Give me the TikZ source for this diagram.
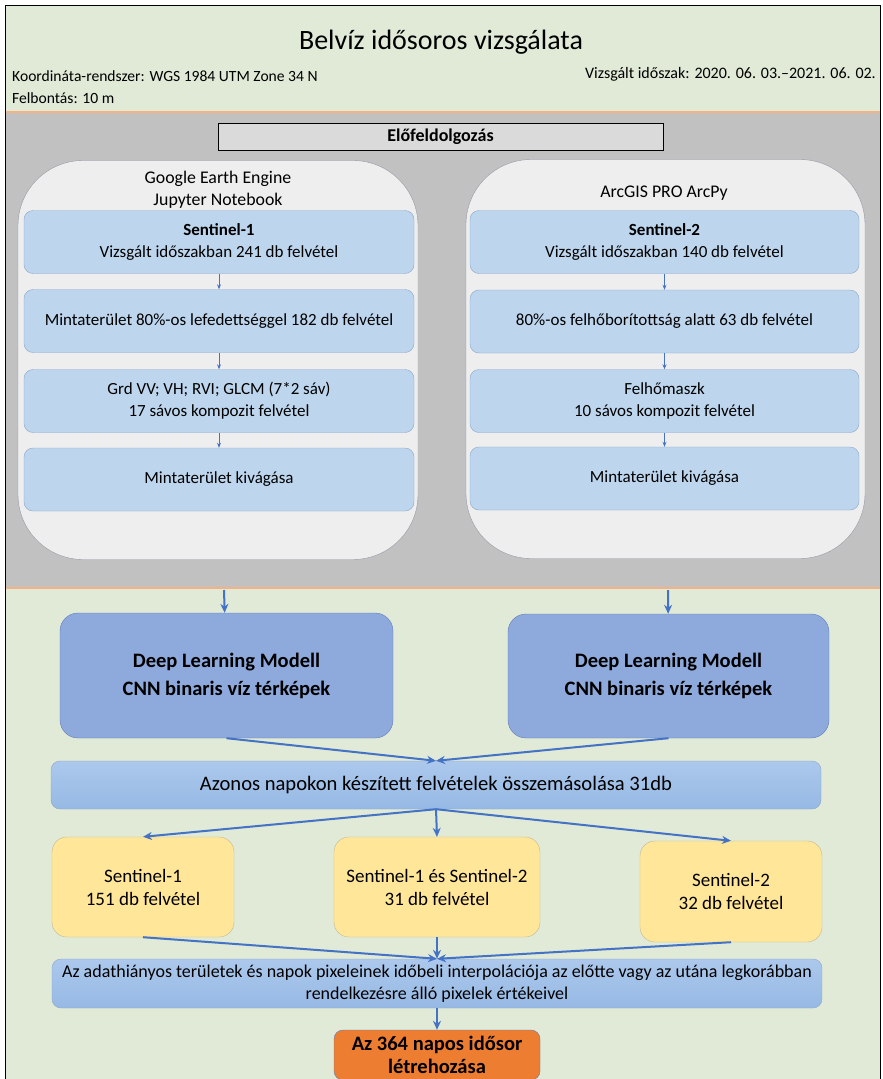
\documentclass[tikz,border=0pt]{standalone}
\usepackage{fontspec}
\setmainfont{Carlito}
\usetikzlibrary{arrows.meta}

\definecolor{bandgreen}{RGB}{224,234,215}
\definecolor{bandgray}{RGB}{193,193,193}
\definecolor{bandline}{RGB}{244,177,131}
\definecolor{contfill}{RGB}{238,238,238}
\definecolor{contline}{RGB}{150,152,165}
\definecolor{stepfill}{RGB}{189,214,238}
\definecolor{stepline}{RGB}{140,165,200}
\definecolor{dlfill}{RGB}{142,169,219}
\definecolor{dlline}{RGB}{95,125,185}
\definecolor{bartop}{RGB}{172,200,236}
\definecolor{barbottom}{RGB}{150,185,228}
\definecolor{resfill}{RGB}{255,230,153}
\definecolor{resline}{RGB}{195,185,145}
\definecolor{outfill}{RGB}{237,125,49}
\definecolor{flowblue}{RGB}{68,114,196}

\tikzset{
    stepbox/.style={draw=stepline, fill=stepfill, rounded corners=9pt,
        minimum width=390pt, minimum height=63pt, align=center,
        font=\fontsize{17}{22}\selectfont},
    panel/.style={draw=contline, fill=contfill, rounded corners=65pt,
        minimum width=400pt, minimum height=399pt},
    dlbox/.style={draw=dlline, fill=dlfill, rounded corners=18pt,
        minimum height=125pt, align=center,
        font=\fontsize{20.5}{28}\selectfont\bfseries},
    bar/.style={draw=stepline, top color=bartop, bottom color=barbottom, rounded corners=9pt,
        minimum width=770pt, align=center},
    resbox/.style={draw=resline, fill=resfill, rounded corners=15pt,
        minimum height=100pt, align=center,
        font=\fontsize{19}{23}\selectfont},
    flow/.style={-{Stealth[length=9pt,width=8pt]}, draw=flowblue, line width=2pt},
    link/.style={-{Stealth[length=5pt,width=4pt]}, draw=flowblue, line width=1pt}
}

\begin{document}
\begin{tikzpicture}[x=1pt, y=-1pt]
    \useasboundingbox (0,0) rectangle (883,1079);
    \clip (0,0) rectangle (883,1079);

    % bands
    \fill[bandgreen] (5,5) rectangle (880,112);
    \fill[bandgray] (5,112) rectangle (880,588);
    \fill[bandgreen] (5,588) rectangle (880,1085);
    \draw[bandline, line width=1.5pt] (5,112) -- (880,112);
    \draw[bandline, line width=1.5pt] (5,588) -- (880,588);
    \draw[line width=1pt] (5,1085) -- (5,5) -- (880,5) -- (880,1085);

    % header
    \node[font=\fontsize{28}{32}\selectfont] (title) at (441,42) {Belvíz idősoros vizsgálata};
    \node[anchor=west, inner sep=0pt, font=\fontsize{15.6}{18}\selectfont] (crs) at (12,76)
        {Koordináta-rendszer: WGS 1984 UTM Zone 34 N};
    \node[anchor=west, inner sep=0pt, font=\fontsize{15.6}{18}\selectfont] (res) at (12,98)
        {Felbontás: 10 m};
    \node[anchor=east, inner sep=0pt, font=\fontsize{16}{18}\selectfont] (period) at (876,74)
        {Vizsgált időszak: 2020. 06. 03.–2021. 06. 02.};

    % preprocessing
    \node[draw, line width=1pt, fill=bandgray!60!white, minimum width=445pt, minimum height=27pt,
        font=\fontsize{18}{20}\selectfont\bfseries] (prep) at (440.5,136.5) {Előfeldolgozás};

    \node[panel] (gee) at (218,360) {};
    \node[panel, minimum width=399pt] (arc) at (665.5,359) {};
    \node[align=center, font=\fontsize{17.8}{22}\selectfont] (geelabel) at (218,190)
        {Google Earth Engine\\Jupyter Notebook};
    \node[font=\fontsize{17.8}{22}\selectfont] (arclabel) at (664,193) {ArcGIS PRO ArcPy};

    \node[stepbox] (s1a) at (219,242) {\textbf{Sentinel-1}\\Vizsgált időszakban 241 db felvétel};
    \node[stepbox] (s1b) at (219,321) {Mintaterület 80\%-os lefedettséggel 182 db felvétel};
    \node[stepbox] (s1c) at (219,401) {Grd VV; VH; RVI; GLCM (7*2 sáv)\\17 sávos kompozit felvétel};
    \node[stepbox] (s1d) at (219,479.5) {Mintaterület kivágása};

    \node[stepbox, minimum width=389pt] (s2a) at (664.5,242) {\textbf{Sentinel-2}\\Vizsgált időszakban 140 db felvétel};
    \node[stepbox, minimum width=389pt] (s2b) at (664.5,321.5) {80\%-os felhőborítottság alatt 63 db felvétel};
    \node[stepbox, minimum width=389pt] (s2c) at (664.5,401) {Felhőmaszk\\10 sávos kompozit felvétel};
    \node[stepbox, minimum width=389pt] (s2d) at (664.5,478.5) {Mintaterület kivágása};

    \draw[link] (s1a) -- (s1b);
    \draw[link] (s1b) -- (s1c);
    \draw[link] (s1c) -- (s1d);
    \draw[link] (s2a) -- (s2b);
    \draw[link] (s2b) -- (s2c);
    \draw[link] (s2c) -- (s2d);

    % models
    \coordinate (geeout) at (224,590);
    \coordinate (arcout) at (668,590);
    \node[dlbox, minimum width=333pt] (dl1) at (226.5,675.5) {Deep Learning Modell\\CNN binaris víz térképek};
    \node[dlbox, minimum width=321pt, minimum height=124pt] (dl2) at (668.5,676) {Deep Learning Modell\\CNN binaris víz térképek};
    \draw[flow] (geeout) -- (dl1);
    \draw[flow] (arcout) -- (dl2);

    \node[bar, minimum height=48pt, font=\fontsize{20.6}{24}\selectfont] (merge) at (436,785)
        {Azonos napokon készített felvételek összemásolása 31db};
    \draw[flow] (dl1.south) -- (merge.north);
    \draw[flow] (dl2.south) -- (merge.north);

    % results
    \node[resbox, minimum width=182pt] (r1) at (143,887) {Sentinel-1\\151 db felvétel};
    \node[resbox, minimum width=206pt] (r12) at (437,887) {Sentinel-1 és Sentinel-2\\31 db felvétel};
    \node[resbox, minimum width=182pt, minimum height=101pt] (r2) at (731,891.5) {Sentinel-2\\32 db felvétel};
    \draw[flow] (merge.south) -- (r1.north);
    \draw[flow] (merge.south) -- (r12.north);
    \draw[flow] (merge.south) -- (r2.north);

    \node[bar, minimum height=49pt, font=\fontsize{18}{22}\selectfont] (interp) at (437,983.5)
        {Az adathiányos területek és napok pixeleinek időbeli interpolációja az előtte vagy az utána legkorábban\\rendelkezésre álló pixelek értékeivel};
    \draw[flow] (r1.south) -- (interp.north);
    \draw[flow] (r12.south) -- (interp.north);
    \draw[flow] (r2.south) -- (interp.north);

    \node[draw=dlline, fill=outfill, rounded corners=9pt, minimum width=206pt, minimum height=50pt,
        inner sep=1pt, align=center, font=\fontsize{20.5}{23}\selectfont\bfseries] (series) at (437,1055)
        {Az 364 napos idősor\\létrehozása};
    \draw[flow] (interp) -- (series);
\end{tikzpicture}
\end{document}
